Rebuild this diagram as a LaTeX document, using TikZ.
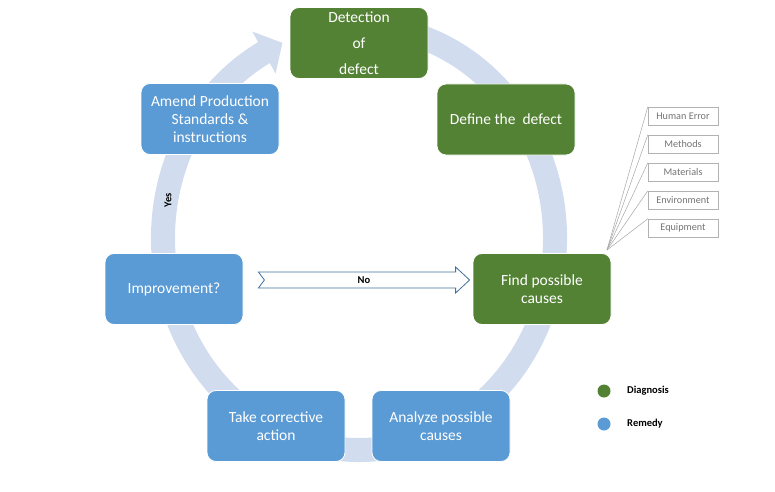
\documentclass[tikz,border=0pt]{standalone}
\usepackage{fontspec}
\setmainfont{Carlito}
\usetikzlibrary{calc,positioning}

\definecolor{diagcol}{RGB}{84,130,53}
\definecolor{remcol}{RGB}{91,155,213}
\definecolor{ringcol}{RGB}{209,220,239}
\definecolor{noline}{RGB}{65,113,156}

\begin{document}
\begin{tikzpicture}[x=1pt,y=1pt,
  stepbox/.style={rounded corners=9pt, draw=white, line width=0.8pt, minimum width=138pt, minimum height=71pt, inner sep=0pt, align=center, text=white, font=\fontsize{15.5}{18.3}\selectfont},
  diag/.style={stepbox, fill=diagcol},
  remedy/.style={stepbox, fill=remcol},
  causebox/.style={draw=gray!60, minimum width=70pt, minimum height=18pt, inner sep=0pt, text=gray!90!black, font=\fontsize{10.2}{11}\selectfont},
  fanline/.style={draw=gray!70, line width=0.5pt},
  smalltext/.style={font=\bfseries\fontsize{10.5}{12}\selectfont, text=black},
  dot/.style={circle, minimum size=13pt, inner sep=0pt}]
\useasboundingbox (0,0) rectangle (775,491);
% the cycle arrow behind the boxes
\coordinate (hub) at (359,253);
\pgfmathsetmacro\ta{119}
\fill[ringcol] ($(hub)+(\ta:208pt and 224pt)$) arc[start angle=\ta, end angle=455, x radius=208pt, y radius=224pt]
  -- ($(hub)+(455:184pt and 200pt)$) arc[start angle=455, end angle=\ta, x radius=184pt, y radius=200pt]
  -- ($(hub)+(\ta:172pt and 188pt)$) -- ($(hub)+(113:196pt and 212pt)$) -- ($(hub)+(\ta:220pt and 236pt)$) -- cycle;
% steps
\node[diag] (detect) at (359,448) {Detection\\[8pt]of\\[8pt]defect};
\node[diag] (define) at (506,371.5) {Define the\ \ defect};
\node[diag] (find) at (542,202) {Find possible\\causes};
\node[remedy] (analyze) at (441,65) {Analyze possible\\causes};
\node[remedy] (take) at (276,65) {Take corrective\\action};
\node[remedy] (improve) at (174,202) {Improvement?};
\node[remedy] (amend) at (210,372) {Amend Production\\Standards \&\\instructions};
\node[smalltext, rotate=90] (yes) at (168,291) {Yes};
% no arrow
\coordinate (notail) at ($(improve.east)+(15,9)$);
\coordinate (notip) at ($(find.west)+(-3,9)$);
\draw[noline, fill=white, line width=0.8pt] (notail) ++(0,8) -- ++(6,-8) -- ++(-6,-8) -- ($(notip)+(-14,-8)$) -- ++(0,-5) -- (notip) -- ++(-14,13) -- ++(0,-5) -- cycle;
\node[smalltext] (no) at ($(notail)!0.5!(notip)$) {No};
% causes
\coordinate (fan) at (607,241);
\foreach \t [count=\n] in {Human Error,Methods,Materials,Environment,Equipment} {
  \node[causebox] (c\n) at (683,375-28*\n+28) {\t};
  \draw[fanline] (fan) -- (c\n.north west);
}
% legend
\node[dot, fill=diagcol] (dot1) at (604,100) {};
\node[dot, fill=remcol] (dot2) at (604,67) {};
\node[smalltext, right=13pt of dot1] (diaglabel) {Diagnosis};
\node[smalltext, right=13pt of dot2] (remlabel) {Remedy};
\end{tikzpicture}
\end{document}
